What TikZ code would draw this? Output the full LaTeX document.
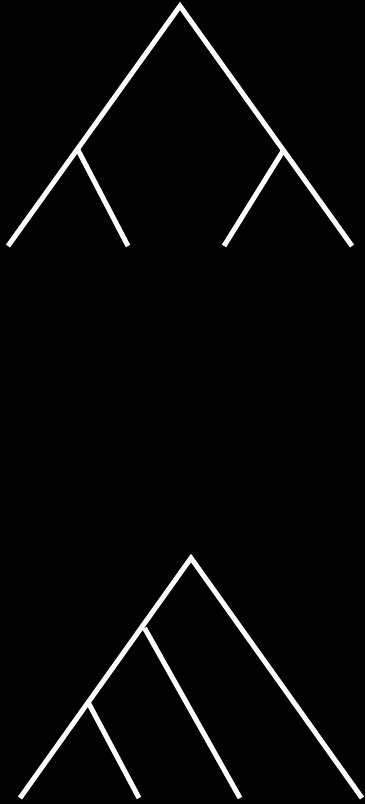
\documentclass[tikz,border=0pt]{standalone}
\begin{document}
\begin{tikzpicture}[x=1pt,y=-1pt,branch/.style={draw=white,line width=5pt,line cap=butt,line join=miter}]
\fill[black] (0,0) rectangle (365,804);
\useasboundingbox (0,0) rectangle (365,804);
% top tree
\coordinate (ta) at (180,6);
\coordinate (tl) at (8,246);
\coordinate (tr) at (352,246);
\coordinate (tn1) at (77.5,149);
\coordinate (tn1b) at (128,246);
\coordinate (tn2) at (283,151);
\coordinate (tn2b) at (224,246);
\draw[branch] (tl) -- (ta) -- (tr);
\draw[branch] (tn1) -- (tn1b);
\draw[branch] (tn2) -- (tn2b);
% bottom tree
\coordinate (ba) at (191,558);
\coordinate (bl) at (20,798);
\coordinate (br) at (362,798);
\coordinate (bn1) at (144.5,628);
\coordinate (bn1b) at (240,798);
\coordinate (bn2) at (88.5,703);
\coordinate (bn2b) at (139,798);
\draw[branch] (bl) -- (ba) -- (br);
\draw[branch] (bn1) -- (bn1b);
\draw[branch] (bn2) -- (bn2b);
\end{tikzpicture}
\end{document}
